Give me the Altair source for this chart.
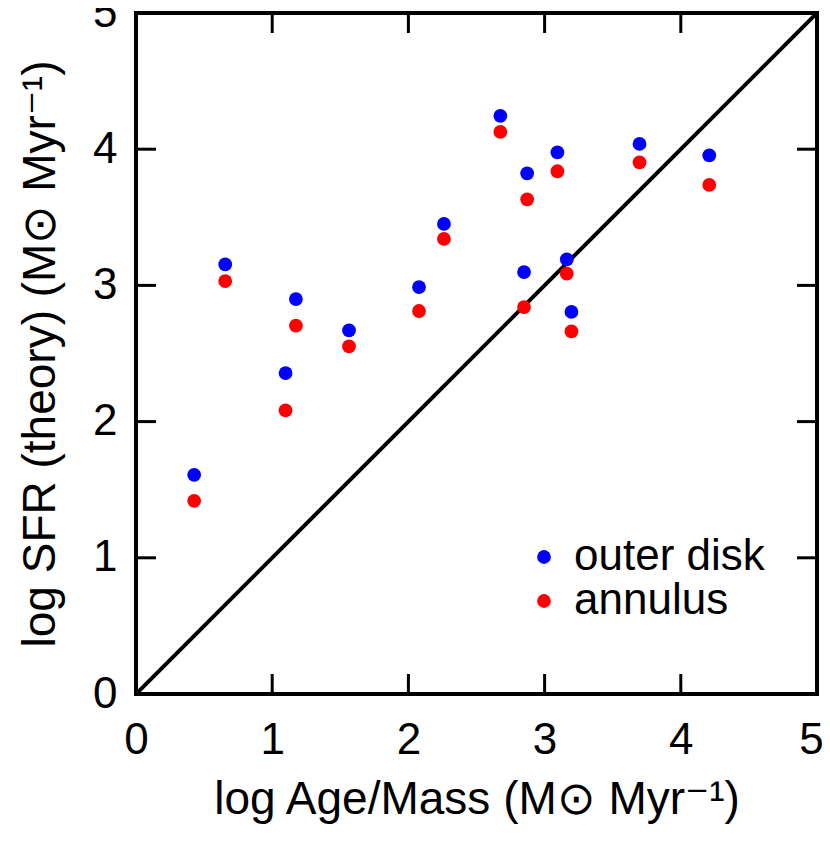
import altair as alt
import pandas as pd

x_vals = [0.427, 0.655, 1.174, 1.098, 1.564, 2.078, 2.261, 2.675, 2.849, 2.872, 3.094, 3.163, 3.197, 3.697, 4.209]
outer_disk = [1.609, 3.154, 2.900, 2.356, 2.669, 2.988, 3.451, 4.245, 3.098, 3.823, 3.977, 3.191, 2.805, 4.039, 3.955]
annulus = [1.418, 3.032, 2.704, 2.082, 2.552, 2.812, 3.341, 4.127, 2.841, 3.632, 3.838, 3.086, 2.662, 3.904, 3.738]
series_names = ["outer disk", "annulus"]
series_colors = ["#0000ff", "#ff0000"]
tick_values = [0, 1, 2, 3, 4, 5]
inner_ticks = [1, 2, 3, 4]
line_x = [0, 5]
line_y = [0, 5]

FONT = "Liberation Sans"
W = 681
H = 681
FS = 44
TFS = 46
TICK = 20

rows = []
for name, ys in zip(series_names, [outer_disk, annulus]):
    for xv, yv in zip(x_vals, ys):
        rows.append({"x": xv, "y": yv, "series": name})
df = pd.DataFrame(rows)

xscale = alt.Scale(domain=[0, 5], nice=False, zero=False)
yscale = alt.Scale(domain=[0, 5], nice=False, zero=False)

xaxis = alt.Axis(values=tick_values, format="d", ticks=False, domain=False, grid=False,
                 labelFontSize=FS, labelFont=FONT, labelColor="black", labelPadding=24,
                 labelOffset={"condition": {"test": "datum.value == 5", "value": -6}, "value": 0},
                 title="log Age/Mass (M\u2299 Myr\u207b\u00b9)", titleFontSize=TFS, titleFont=FONT,
                 titleFontWeight="normal", titleColor="black", titlePadding=15,
                 labelFlush=False, labelOverlap=False)
yaxis = alt.Axis(values=tick_values, format="d", ticks=False, domain=False, grid=False,
                 labelFontSize=FS, labelFont=FONT, labelColor="black", labelPadding=19,
                 title="log SFR (theory) (M\u2299 Myr\u207b\u00b9)", titleFontSize=TFS, titleFont=FONT,
                 titleFontWeight="normal", titleColor="black", titlePadding=28,
                 labelFlush=False, labelOverlap=False)

points = alt.Chart(df).mark_circle(size=190, opacity=1).encode(
    x=alt.X("x:Q", scale=xscale, axis=xaxis),
    y=alt.Y("y:Q", scale=yscale, axis=yaxis),
    color=alt.Color("series:N",
                    scale=alt.Scale(domain=series_names, range=series_colors),
                    sort=series_names,
                    legend=alt.Legend(title=None, orient="none", legendX=386, legendY=522,
                                      labelFontSize=FS, labelFont=FONT, labelColor="black",
                                      labelLimit=400,
                                      symbolSize=190, symbolType="circle", symbolStrokeWidth=0,
                                      labelOffset=8, rowPadding=0, padding=0)),
)

line_df = pd.DataFrame({"x": line_x, "y": line_y})
diag = alt.Chart(line_df).mark_line(color="black", strokeWidth=4, clip=True).encode(
    x=alt.X("x:Q", scale=xscale),
    y=alt.Y("y:Q", scale=yscale),
)

tdf = pd.DataFrame({"t": inner_ticks})
bottom_ticks = alt.Chart(tdf).mark_rule(color="black", strokeWidth=3).encode(
    x=alt.X("t:Q", scale=xscale), y=alt.value(H), y2=alt.value(H - TICK))
top_ticks = alt.Chart(tdf).mark_rule(color="black", strokeWidth=3).encode(
    x=alt.X("t:Q", scale=xscale), y=alt.value(0), y2=alt.value(TICK))
left_ticks = alt.Chart(tdf).mark_rule(color="black", strokeWidth=3).encode(
    y=alt.Y("t:Q", scale=yscale), x=alt.value(0), x2=alt.value(TICK))
right_ticks = alt.Chart(tdf).mark_rule(color="black", strokeWidth=3).encode(
    y=alt.Y("t:Q", scale=yscale), x=alt.value(W), x2=alt.value(W - TICK))

chart = alt.layer(diag, bottom_ticks, top_ticks, left_ticks, right_ticks, points).properties(
    width=W, height=H,
    autosize=alt.AutoSizeParams(type="none"),
    padding={"left": 128, "top": 5, "right": 5, "bottom": 140},
    background="white",
).configure_view(stroke="black", strokeWidth=4)

chart.save("out.html", embed_options={"renderer": "svg", "actions": False})
